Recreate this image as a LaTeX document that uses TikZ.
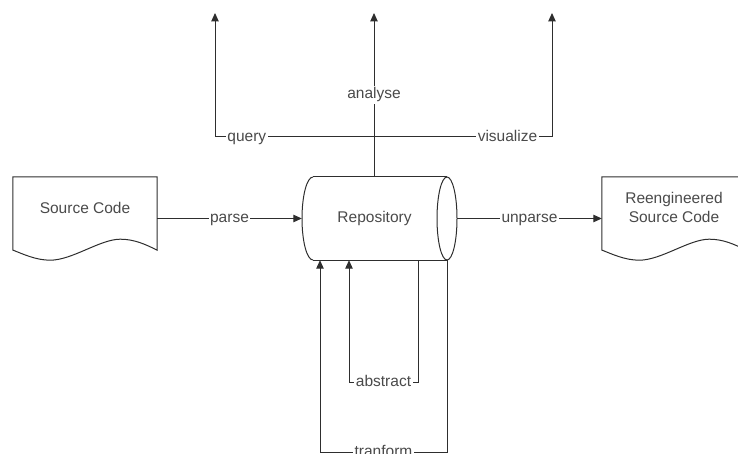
\documentclass[tikz,border=0pt]{standalone}
\usepackage{fontspec}
\setmainfont{Liberation Sans}
\usetikzlibrary{arrows.meta,calc}
\definecolor{ink}{HTML}{2E2E2E}
\definecolor{txt}{HTML}{4A4A4A}
\tikzset{
  line/.style={draw=ink, line width=1pt},
  arr/.style={line, -{Triangle[length=8.5pt,width=7.5pt]}},
  lab/.style={fill=white, inner sep=1.5pt, text=txt, font=\fontsize{15.5}{19}\selectfont,
              text height=11.8pt, text depth=3.5pt},
  box/.style={minimum width=144pt, minimum height=73pt, inner sep=0pt},
  btext/.style={text=txt, font=\fontsize{15.5}{19}\selectfont, align=center},
}
\begin{document}
\begin{tikzpicture}[x=1pt,y=-1pt]
  \useasboundingbox (0,0) rectangle (738,454);
  \clip (0,0) rectangle (738,454);

  % documents
  \node[box] (src) at (85,213.5) {};
  \node[btext] (srctext) at (85,208) {Source Code};
  \node[box] (dst) at (674,213.5) {};
  \node[btext] (dsttext) at (674,207.5) {Reengineered\\Source Code};
  \foreach \d in {src,dst}{
    \draw[line] (\d.south west) -- (\d.north west) -- (\d.north east) -- (\d.south east)
      .. controls +(-12,-6) and +(14,0) .. ++(-37,-11)
      .. controls +(-20,0) and +(22,0) .. ++(-70,21)
      .. controls +(-14,0) and +(10,4) .. ++(-37,-10) -- cycle;
  }

  % repository cylinder
  \node[minimum width=155pt, minimum height=83pt, inner sep=0pt] (repo) at (379.5,218.5) {};
  \node[btext] (repotext) at (374.5,218.5) {Repository};
  \draw[line] (313,177) -- (447,177);
  \draw[line] (313,260) -- (447,260);
  \draw[line] (313,177) arc[start angle=90, end angle=270, x radius=11pt, y radius=41.5pt];
  \draw[line] (447,218.5) ellipse[x radius=10pt, y radius=41.5pt];

  % parse / unparse
  \draw[arr] (repo.west -| src.east) -- node[lab]{parse} (repo.west);
  \draw[arr] (repo.east) -- node[lab]{unparse} (repo.east -| dst.west);

  % outputs above the repository
  \coordinate (hub)  at (374,137);
  \coordinate (qtip) at (215,13);
  \coordinate (atip) at (374,13);
  \coordinate (vtip) at (552,13);
  \draw[line] (repo.north -| hub) -- (hub);
  \draw[arr] (hub) -- node[lab,pos=.34]{analyse} (atip);
  \draw[arr] (hub) -- node[lab,pos=.8]{query} (hub -| qtip) -- (qtip);
  \draw[arr] (hub) -- node[lab,pos=.75]{visualize} (hub -| vtip) -- (vtip);

  % loops below the repository
  \coordinate (abR) at (418,382);
  \coordinate (abL) at (349,382);
  \coordinate (tfR) at (447,452);
  \coordinate (tfL) at (320,452);
  \draw[arr] (repo.south -| abR) -- (abR) -- node[lab]{abstract} (abL) -- (abL |- repo.south);
  \draw[arr] (repo.south -| tfR) -- (tfR) -- node[lab]{tranform} (tfL) -- (tfL |- repo.south);
\end{tikzpicture}
\end{document}
